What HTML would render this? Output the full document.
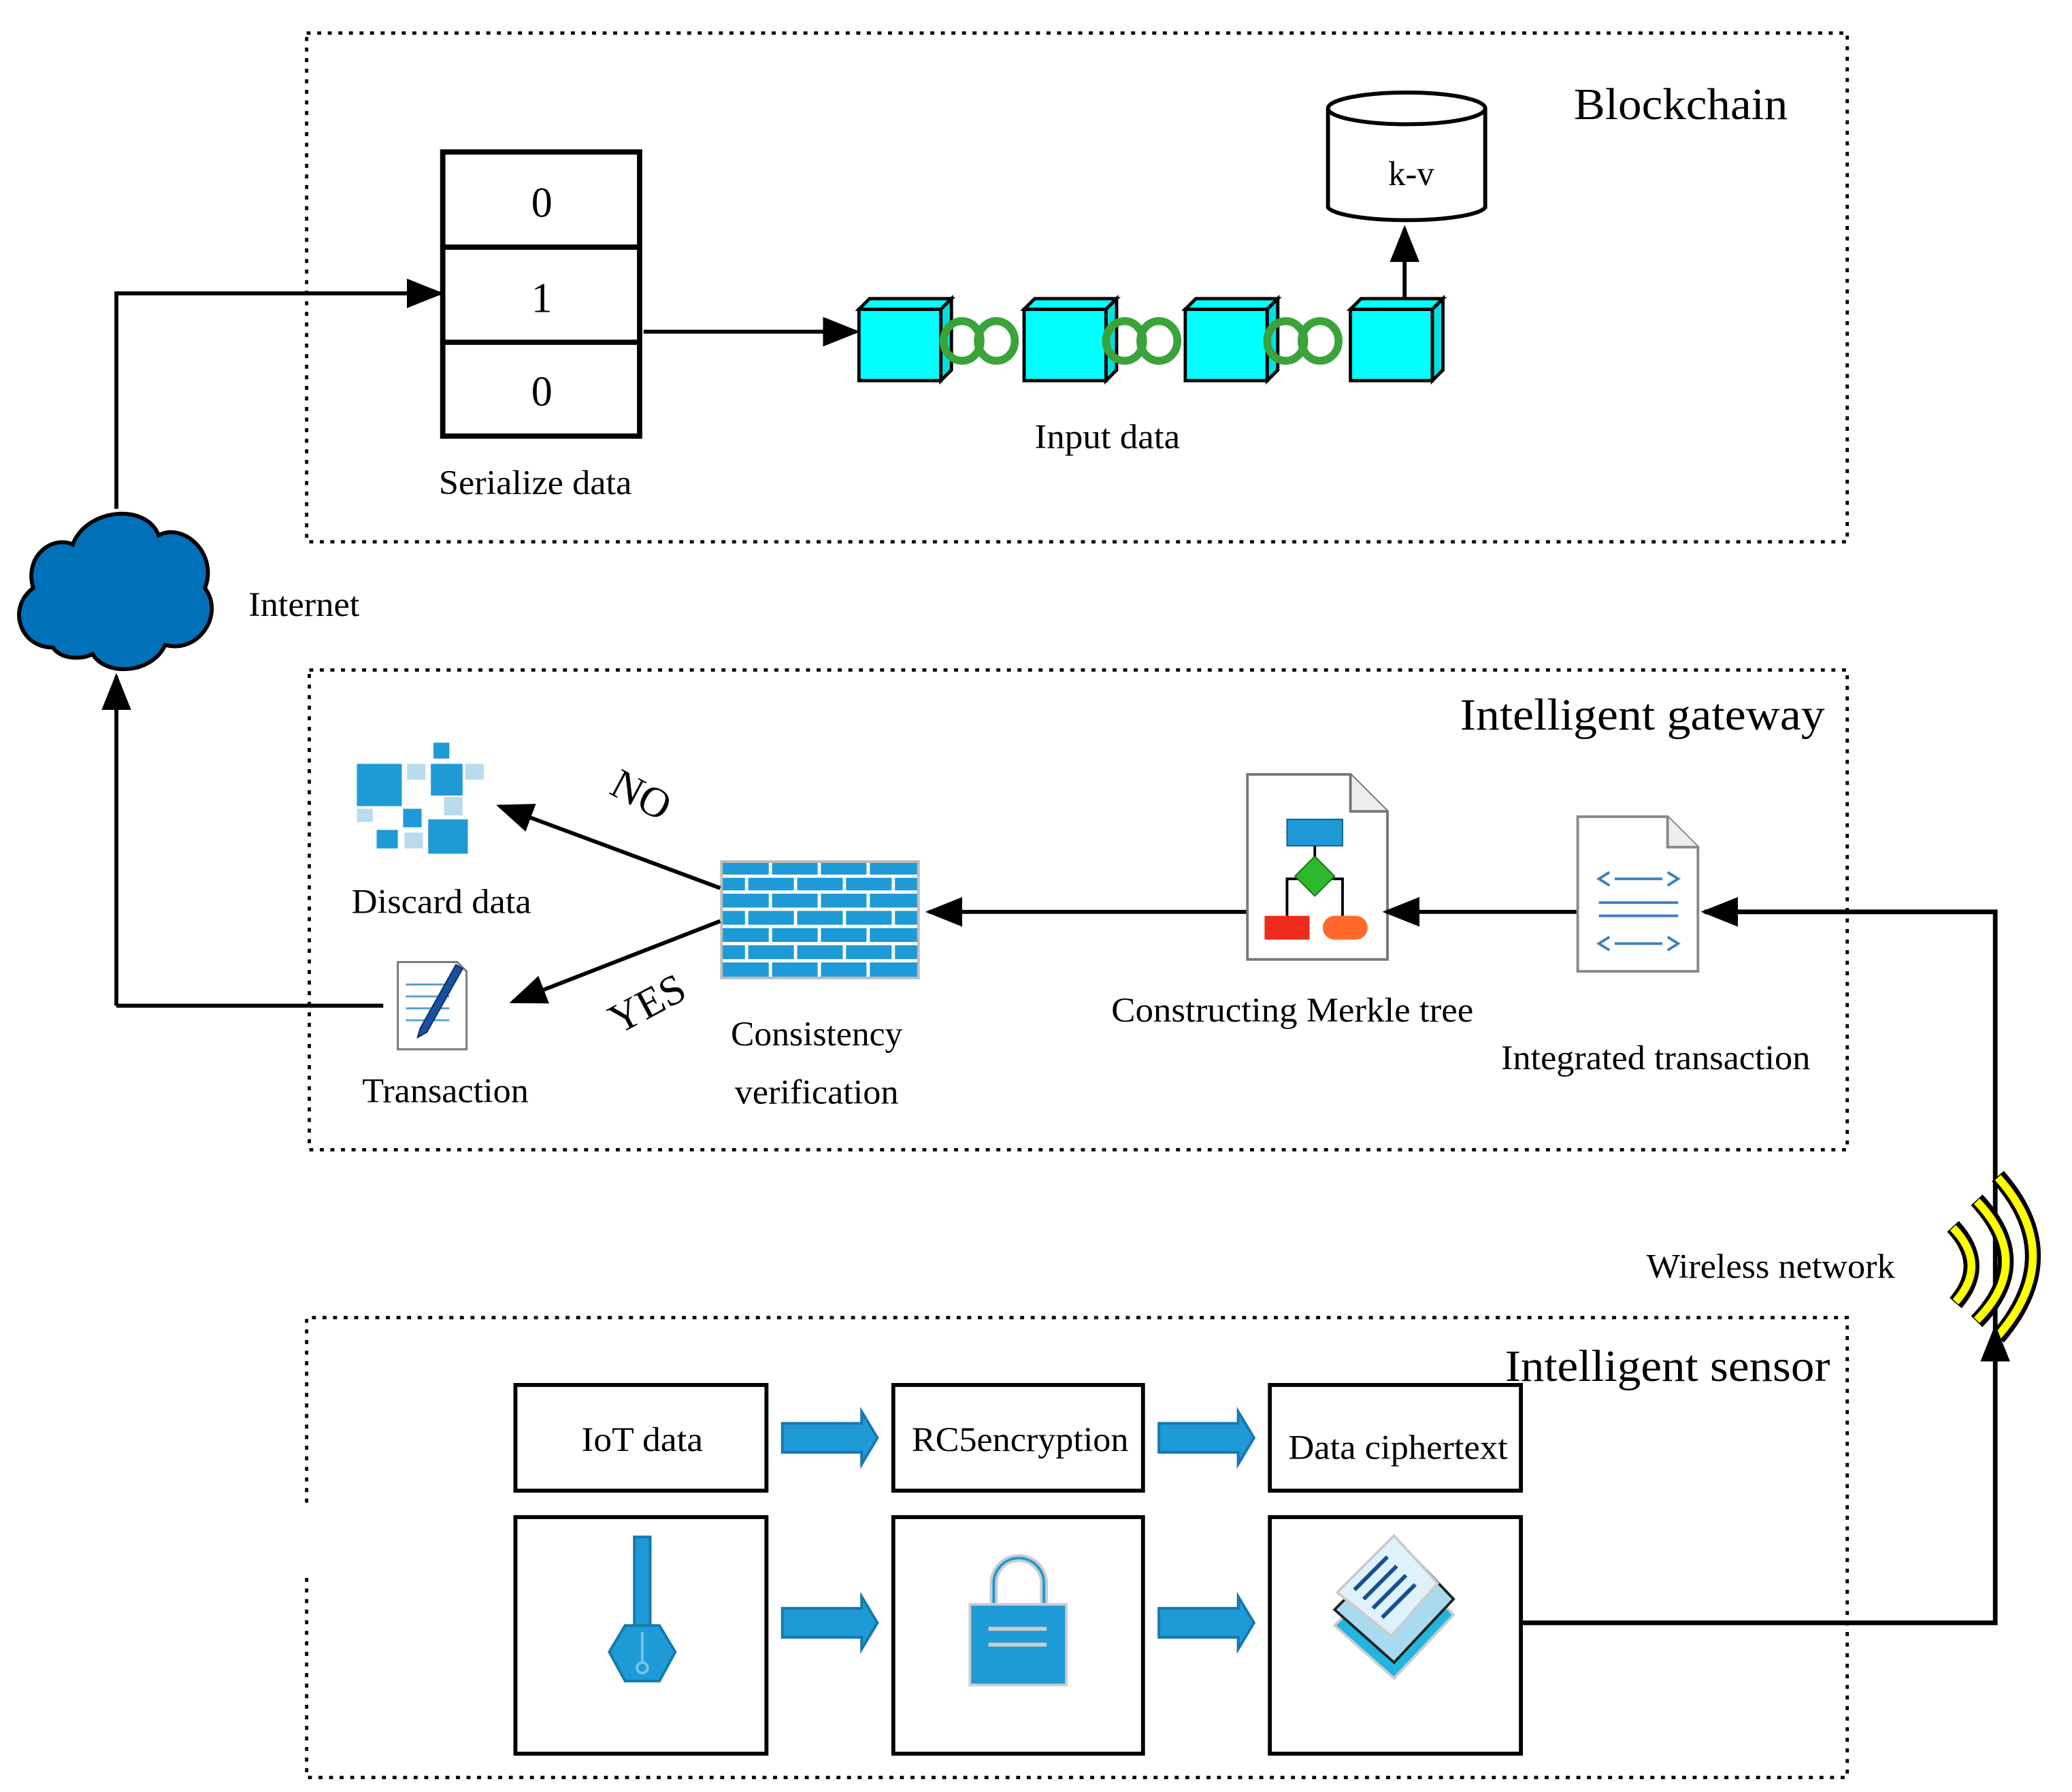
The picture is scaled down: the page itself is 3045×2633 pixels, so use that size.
<!DOCTYPE html>
<html><head><meta charset="utf-8"><style>html,body{margin:0;padding:0;background:#fff;overflow:hidden;width:3045px;height:2633px}svg{display:block}</style></head><body>
<svg width="3045" height="2633" viewBox="0 0 1568 1356" xmlns="http://www.w3.org/2000/svg" font-family="Liberation Serif, serif">
<defs>
<marker id="a2" viewBox="0 0 10 10" refX="9" refY="5" markerWidth="28" markerHeight="28" orient="auto" markerUnits="userSpaceOnUse"><path d="M0,1 L10,5 L0,9 z" fill="#000"/></marker>
<g id="cube"><rect x="0" y="8" width="62" height="54" fill="#00ffff" stroke="#000" stroke-width="2.5"/><path d="M0,8 L8,0 L70,0 L62,8 z" fill="#00ffff" stroke="#000" stroke-width="2.5"/><path d="M62,8 L70,0 L70,54 L62,62 z" fill="#00e0e0" stroke="#000" stroke-width="2.5"/></g>
<g id="chain" fill="none" stroke="#3aa33a" stroke-width="6"><ellipse cx="14" cy="0" rx="14" ry="15"/><ellipse cx="40" cy="0" rx="14" ry="15"/></g>
<g id="barr"><path d="M0,-11 L60,-11 L60,-20 L72,0 L60,20 L60,11 L0,11 z" fill="#1e9ad6" stroke="#1678ad" stroke-width="2"/></g>
</defs>

<g fill="none" stroke="#000" stroke-width="2.5" stroke-dasharray="3,5">
<rect x="232" y="25" width="1166" height="385"/>
<rect x="234" y="507" width="1164" height="363"/>
<path d="M232,1137 L232,997 L1398,997 L1398,1345 L232,1345 L232,1190"/>
</g>

<text x="1272" y="90" font-size="34" text-anchor="middle" textLength="162" lengthAdjust="spacingAndGlyphs">Blockchain</text>
<g fill="#fff" stroke="#000" stroke-width="4">
<rect x="335" y="115" width="149" height="215"/>
<line x1="335" y1="187" x2="484" y2="187"/><line x1="335" y1="259" x2="484" y2="259"/>
</g>
<g font-size="32" text-anchor="middle"><text x="410" y="164">0</text><text x="410" y="236">1</text><text x="410" y="307">0</text></g>
<text x="405" y="374" font-size="26" text-anchor="middle" textLength="146" lengthAdjust="spacingAndGlyphs">Serialize data</text>
<path d="M88,385 L88,222 L333,222" fill="none" stroke="#000" stroke-width="3" marker-end="url(#a2)"/>
<path d="M487,251 L648,251" fill="none" stroke="#000" stroke-width="3" marker-end="url(#a2)"/>
<use href="#cube" x="650" y="226"/><use href="#cube" x="775" y="226"/><use href="#cube" x="897" y="226"/><use href="#cube" x="1022" y="226"/>
<use href="#chain" x="714" y="258"/><use href="#chain" x="837" y="258"/><use href="#chain" x="959" y="258"/>
<path d="M1063,226 L1063,173" fill="none" stroke="#000" stroke-width="3" marker-end="url(#a2)"/>
<path d="M1005,82 L1005,157 A60,11 0 0 0 1124,157 L1124,82" fill="#fff" stroke="#000" stroke-width="3"/>
<ellipse cx="1064.5" cy="82" rx="59.5" ry="12" fill="#fff" stroke="#000" stroke-width="3"/>
<text x="1068" y="140" font-size="26" text-anchor="middle">k-v</text>
<text x="838" y="339" font-size="26" text-anchor="middle" textLength="110" lengthAdjust="spacingAndGlyphs">Input data</text>

<path d="M40,490 C15,490 5,460 25,445 C18,420 40,405 55,412 C65,385 110,380 120,405 C140,395 165,420 155,445 C170,465 150,495 125,488 C115,510 80,512 70,495 C60,500 45,498 40,490 z" fill="#0070b8" stroke="#000" stroke-width="3"/>
<text x="188" y="466" font-size="26" textLength="84" lengthAdjust="spacingAndGlyphs">Internet</text>

<text x="1243" y="552" font-size="34" text-anchor="middle" textLength="276" lengthAdjust="spacingAndGlyphs">Intelligent gateway</text>
<g fill="#1e9ad6">
<rect x="270" y="578" width="34" height="32"/><rect x="326" y="578" width="24" height="24"/><rect x="324" y="620" width="30" height="26"/><rect x="285" y="628" width="16" height="14"/><rect x="305" y="612" width="14" height="14"/><rect x="328" y="562" width="12" height="12"/>
</g>
<g fill="#b9dbee"><rect x="308" y="578" width="14" height="12"/><rect x="352" y="578" width="14" height="12"/><rect x="270" y="612" width="12" height="10"/><rect x="336" y="603" width="14" height="14"/><rect x="306" y="630" width="14" height="12"/></g>
<text x="334" y="691" font-size="26" text-anchor="middle" textLength="136" lengthAdjust="spacingAndGlyphs">Discard data</text>
<path d="M301,728 L346,728 L353,735 L353,794 L301,794 z" fill="#fff" stroke="#777" stroke-width="1.5"/>
<g stroke="#5aa0d0" stroke-width="1.5"><line x1="307" y1="745" x2="340" y2="745"/><line x1="307" y1="754" x2="340" y2="754"/><line x1="307" y1="763" x2="340" y2="763"/><line x1="307" y1="772" x2="340" y2="772"/></g>
<path d="M318,778 L345,730 L350,733 L323,781 L316,785 z" fill="#1a4fa0" stroke="#0b2b66" stroke-width="1"/>
<text x="337" y="834" font-size="26" text-anchor="middle" textLength="126" lengthAdjust="spacingAndGlyphs">Transaction</text>
<rect x="546" y="652" width="149" height="88" fill="#1e9ad6"/>
<g stroke="#fff" stroke-width="2.5">
<line x1="546" y1="663" x2="695" y2="663"/><line x1="546" y1="675" x2="695" y2="675"/><line x1="546" y1="688" x2="695" y2="688"/><line x1="546" y1="701" x2="695" y2="701"/><line x1="546" y1="714" x2="695" y2="714"/><line x1="546" y1="727" x2="695" y2="727"/>
<path d="M583,652v11M620,652v11M657,652v11M565,663v12M602,663v12M639,663v12M676,663v12M583,675v13M620,675v13M657,675v13M565,688v13M602,688v13M639,688v13M676,688v13M583,701v13M620,701v13M657,701v13M565,714v13M602,714v13M639,714v13M676,714v13M583,727v13M620,727v13M657,727v13"/>
</g>
<rect x="546" y="652" width="149" height="88" fill="none" stroke="#bbb" stroke-width="2"/>
<text x="618" y="791" font-size="26" text-anchor="middle" textLength="130" lengthAdjust="spacingAndGlyphs">Consistency</text>
<text x="618" y="835" font-size="26" text-anchor="middle" textLength="124" lengthAdjust="spacingAndGlyphs">verification</text>
<path d="M545,672 L378,610" fill="none" stroke="#000" stroke-width="3" marker-end="url(#a2)"/>
<path d="M545,697 L388,758" fill="none" stroke="#000" stroke-width="3" marker-end="url(#a2)"/>
<text x="485" y="612" font-size="32" text-anchor="middle" transform="rotate(28 485 602)">NO</text>
<text x="490" y="770" font-size="32" text-anchor="middle" transform="rotate(-28 490 760)">YES</text>
<path d="M955,690 L703,690" fill="none" stroke="#000" stroke-width="3" marker-end="url(#a2)"/>
<path d="M944,586 L1022,586 L1050,614 L1050,726 L944,726 z" fill="#fff" stroke="#777" stroke-width="2"/>
<path d="M1022,586 L1022,614 L1050,614" fill="#eee" stroke="#777" stroke-width="2"/>
<rect x="974" y="620" width="42" height="20" fill="#1e9ad6" stroke="#0b5f8f" stroke-width="1"/>
<g stroke="#000" stroke-width="2" fill="none"><path d="M995,640 L995,650 M974,693 L974,665 L1016,665 L1016,693"/></g>
<path d="M995,648 L1010,663 L995,678 L980,663 z" fill="#2eb82e" stroke="#187018" stroke-width="1"/>
<rect x="957" y="693" width="34" height="18" fill="#ee2b1d"/>
<rect x="1001" y="693" width="34" height="18" rx="9" fill="#ff6a2a"/>
<text x="978" y="773" font-size="26" text-anchor="middle" textLength="274" lengthAdjust="spacingAndGlyphs">Constructing Merkle tree</text>
<path d="M1195,690 L1049,690" fill="none" stroke="#000" stroke-width="3" marker-end="url(#a2)"/>
<path d="M1194,618 L1262,618 L1285,641 L1285,735 L1194,735 z" fill="#fff" stroke="#888" stroke-width="2"/>
<path d="M1262,618 L1262,641 L1285,641" fill="#eee" stroke="#888" stroke-width="2"/>
<g stroke="#3f7fc0" stroke-width="2" fill="none">
<path d="M1218,660 L1210,665 L1218,670 M1262,660 L1270,665 L1262,670 M1222,665 L1258,665"/>
<path d="M1210,683 L1270,683 M1210,693 L1270,693"/>
<path d="M1218,709 L1210,714 L1218,719 M1262,709 L1270,714 L1262,719 M1222,714 L1258,714"/>
</g>
<text x="1253" y="809" font-size="26" text-anchor="middle" textLength="234" lengthAdjust="spacingAndGlyphs">Integrated transaction</text>
<path d="M1152,1228 L1510,1228 L1510,690 L1290,690" fill="none" stroke="#000" stroke-width="3.5" marker-end="url(#a2)"/>
<path d="M88,761 L290,761" fill="none" stroke="#000" stroke-width="3"/>
<path d="M88,761 L88,512" fill="none" stroke="#000" stroke-width="3" marker-end="url(#a2)"/>

<g fill="none" stroke-linecap="butt">
<g stroke="#000" stroke-width="12">
<path d="M1512,890 Q1565,950 1512,1012"/><path d="M1496,908 Q1540,955 1496,1000"/><path d="M1478,928 Q1505,957 1480,986"/>
</g>
<g stroke="#ffff00" stroke-width="6">
<path d="M1512,891 Q1565,950 1512,1011"/><path d="M1496,909 Q1540,955 1496,999"/><path d="M1478,929 Q1505,957 1480,985"/>
</g>
</g>
<path d="M1510,1030 L1510,1005" stroke="#000" stroke-width="3" marker-end="url(#a2)"/>
<text x="1340" y="967" font-size="26" text-anchor="middle" textLength="188" lengthAdjust="spacingAndGlyphs">Wireless network</text>

<text x="1262" y="1045" font-size="34" text-anchor="middle" textLength="246" lengthAdjust="spacingAndGlyphs">Intelligent sensor</text>
<g fill="#fff" stroke="#000" stroke-width="3">
<rect x="390" y="1048" width="190" height="80"/><rect x="676" y="1048" width="189" height="80"/><rect x="961" y="1048" width="190" height="80"/>
<rect x="390" y="1148" width="190" height="179"/><rect x="676" y="1148" width="189" height="179"/><rect x="961" y="1148" width="190" height="179"/>
</g>
<text x="486" y="1098" font-size="26" text-anchor="middle" textLength="92" lengthAdjust="spacingAndGlyphs">IoT data</text>
<text x="772" y="1098" font-size="26" text-anchor="middle" textLength="164" lengthAdjust="spacingAndGlyphs">RC5encryption</text>
<text x="1058" y="1104" font-size="26" text-anchor="middle" textLength="166" lengthAdjust="spacingAndGlyphs">Data ciphertext</text>
<use href="#barr" x="592" y="1088"/><use href="#barr" x="877" y="1088"/>
<use href="#barr" x="592" y="1228"/><use href="#barr" x="877" y="1228"/>
<rect x="480" y="1163" width="12" height="70" fill="#1e9ad6" stroke="#1678ad" stroke-width="2"/>
<path d="M473,1230 L499,1230 L511,1250 L499,1272 L473,1272 L461,1250 z" fill="#1e9ad6" stroke="#1678ad" stroke-width="2"/>
<line x1="486" y1="1235" x2="486" y2="1258" stroke="#7cc3ea" stroke-width="2"/>
<circle cx="486" cy="1262" r="4" fill="none" stroke="#7cc3ea" stroke-width="2"/>
<path d="M752,1218 L752,1198 A19,19 0 0 1 790,1198 L790,1218" fill="none" stroke="#ccc" stroke-width="6"/>
<path d="M752,1218 L752,1198 A19,19 0 0 1 790,1198 L790,1218" fill="none" stroke="#1e9ad6" stroke-width="2"/>
<rect x="734" y="1214" width="73" height="61" fill="#1e9ad6" stroke="#ccc" stroke-width="2"/>
<rect x="748" y="1231" width="44" height="3" fill="#ccc"/><rect x="748" y="1243" width="44" height="3" fill="#ccc"/>
<path d="M1010,1230 L1060,1180 L1100,1222 L1055,1270 z" fill="#22b5e0" stroke="#ccc" stroke-width="2"/>
<path d="M1010,1218 L1060,1168 L1100,1210 L1055,1258 z" fill="#a8daf0" stroke="#222" stroke-width="2"/>
<path d="M1012,1205 L1055,1162 L1088,1198 L1053,1238 z" fill="#dff2fb" stroke="#ccc" stroke-width="2"/>
<g stroke="#14508f" stroke-width="3"><line x1="1025" y1="1203" x2="1050" y2="1178"/><line x1="1032" y1="1210" x2="1057" y2="1185"/><line x1="1039" y1="1217" x2="1064" y2="1192"/><line x1="1046" y1="1224" x2="1071" y2="1199"/></g>
</svg>
</body></html>
